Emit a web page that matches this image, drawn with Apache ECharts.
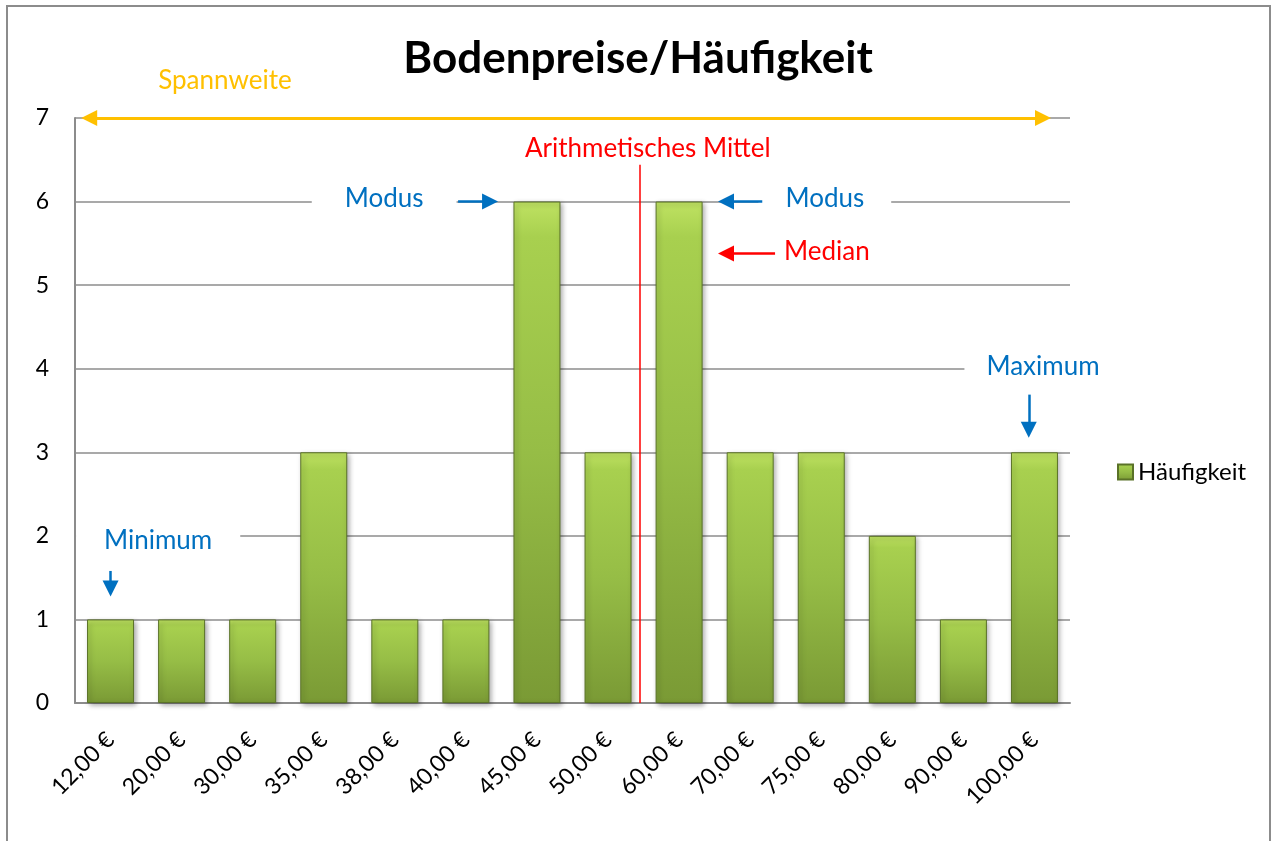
<!DOCTYPE html>
<html>
<head>
<meta charset="utf-8">
<script src="https://cdn.jsdelivr.net/npm/echarts@6/dist/echarts.min.js"></script>
<style>
  html, body { margin: 0; padding: 0; background: #fff; }
  #chart { width: 1276px; height: 841px; }
</style>
</head>
<body>
<div id="chart"></div>
<script>
// ---- data ----
const categories = ['12,00 €','20,00 €','30,00 €','35,00 €','38,00 €','40,00 €','45,00 €','50,00 €','60,00 €','70,00 €','75,00 €','80,00 €','90,00 €','100,00 €'];
const frequency = [1, 1, 1, 3, 1, 1, 6, 3, 6, 3, 3, 2, 1, 3];
const yTicks = [0, 1, 2, 3, 4, 5, 6, 7];
const meanPos = 7.45; // position of arithmetic mean along category index axis

// annotation arrows [from, to] in (category index, value) units
const spanArrow = [[-0.30, 7], [13.12, 7]];
const blueArrows = [
  [[4.89, 6], [5.34, 6]],    // Modus left
  [[9.17, 6], [8.66, 6]],    // Modus right
  [[0.0, 1.58], [0.0, 1.37]],   // Minimum
  [[12.92, 3.69], [12.92, 3.27]] // Maximum
];
const redArrows = [
  [[9.35, 5.38], [8.66, 5.38]] // Median
];
const meanLine = [[meanPos, 6.44], [meanPos, 0]];

// annotation texts: [text, x, y, color, padX]
const annotations = [
  ['Spannweite', 1.61, 7.45, '#FFC000', 4],
  ['Arithmetisches Mittel', 7.56, 6.63, '#FF0000', 4],
  ['Modus', 3.85, 6.04, '#0070C0', 33],
  ['Modus', 10.05, 6.04, '#0070C0', 27],
  ['Median', 10.08, 5.40, '#FF0000', 4],
  ['Minimum', 0.67, 1.94, '#0070C0', 28],
  ['Maximum', 13.12, 4.02, '#0070C0', 22]
];

const FONT = 'Lato, "Open Sans", sans-serif';
const chart = echarts.init(document.getElementById('chart'));

const barColor = new echarts.graphic.LinearGradient(0, 0, 0, 1, [
  { offset: 0, color: '#bfe262' },
  { offset: 0.07, color: '#a8d04f' },
  { offset: 0.5, color: '#96bd46' },
  { offset: 1, color: '#7a9a35' }
]);

chart.setOption({
  animation: false,
  textStyle: { fontFamily: FONT },
  graphic: [{
    type: 'rect', z: -10, silent: true,
    shape: { x: 7, y: 6, width: 1263, height: 900 },
    style: { fill: '#fff', stroke: '#8c8c8c', lineWidth: 2 }
  }],
  title: {
    text: 'Bodenpreise/Häufigkeit',
    left: 'center', top: 32,
    textStyle: { fontFamily: FONT, fontSize: 44, fontWeight: 'bold', color: '#000' }
  },
  legend: {
    left: 1112, top: 455, orient: 'vertical',
    itemWidth: 15, itemHeight: 15, itemGap: 8,
    icon: 'rect',
    data: ['Häufigkeit'],
    textStyle: { fontFamily: FONT, fontSize: 24, color: '#000' }
  },
  grid: { left: 75, right: 206, top: 118, bottom: 138, containLabel: false },
  xAxis: [{
    type: 'category',
    data: categories,
    axisLine: { lineStyle: { color: '#8c8c8c', width: 2 } },
    axisTick: { show: false },
    axisLabel: { rotate: 45, fontSize: 23, color: '#000', margin: 33, fontFamily: FONT, interval: 0 },
    splitLine: { show: false }
  }, {
    type: 'value', min: -0.5, max: 13.5, show: false
  }],
  yAxis: [{
    type: 'value', min: 0, max: 7, interval: 1,
    axisLine: { show: true, onZero: false, lineStyle: { color: '#8c8c8c', width: 2 } },
    axisTick: { show: false },
    axisLabel: { fontSize: 23, color: '#000', margin: 26, fontFamily: FONT,
      formatter: v => yTicks.includes(v) ? String(v) : '' },
    splitLine: { show: true, lineStyle: { color: '#8c8c8c', width: 1.5 } }
  }],
  series: [
    {
      name: 'Häufigkeit',
      type: 'bar',
      data: frequency,
      barWidth: 47,
      itemStyle: {
        color: barColor,
        borderColor: '#5a7228', borderWidth: 1,
        shadowColor: 'rgba(0,0,0,0.35)', shadowBlur: 5, shadowOffsetX: 2, shadowOffsetY: 2
      },
      z: 2
    },
    {
      name: 'meanLine', type: 'lines', coordinateSystem: 'cartesian2d',
      xAxisIndex: 1, yAxisIndex: 0, z: 5, clip: false,
      symbol: ['none', 'none'],
      lineStyle: { color: '#FF0000', width: 1.5, opacity: 1 },
      data: [{ coords: meanLine }]
    },
    {
      name: 'span', type: 'lines', coordinateSystem: 'cartesian2d',
      xAxisIndex: 1, yAxisIndex: 0, z: 6, clip: false,
      symbol: ['triangle', 'triangle'], symbolSize: 16,
      lineStyle: { color: '#FFC000', width: 3, opacity: 1 },
      data: [{ coords: spanArrow }]
    },
    {
      name: 'blueArrows', type: 'lines', coordinateSystem: 'cartesian2d',
      xAxisIndex: 1, yAxisIndex: 0, z: 6, clip: false,
      symbol: ['none', 'triangle'], symbolSize: 16,
      lineStyle: { color: '#0070C0', width: 2.5, opacity: 1 },
      data: blueArrows.map(c => ({ coords: c }))
    },
    {
      name: 'redArrows', type: 'lines', coordinateSystem: 'cartesian2d',
      xAxisIndex: 1, yAxisIndex: 0, z: 6, clip: false,
      symbol: ['none', 'triangle'], symbolSize: 16,
      lineStyle: { color: '#FF0000', width: 2.5, opacity: 1 },
      data: redArrows.map(c => ({ coords: c }))
    },
    {
      name: 'labels', type: 'scatter',
      xAxisIndex: 1, yAxisIndex: 0, z: 4,
      symbolSize: 0, silent: true, clip: false,
      itemStyle: { opacity: 1 },
      data: annotations.map(a => ({
        value: [a[1], a[2]],
        label: {
          show: true, position: 'inside', formatter: a[0],
          color: a[3], fontSize: 26, fontFamily: FONT,
          textBorderWidth: 0, textBorderColor: 'transparent',
          backgroundColor: '#fff', padding: [2, a[4]]
        }
      }))
    }
  ]
});
</script>
</body>
</html>
